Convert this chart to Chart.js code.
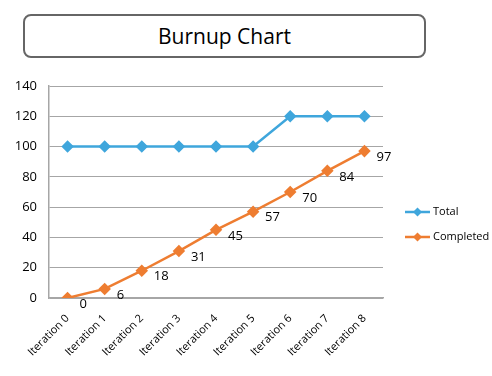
<!DOCTYPE html>
<html>
<head>
<meta charset="utf-8">
<script src="https://cdn.jsdelivr.net/npm/chart.js@4"></script>
<style>
  body { margin: 0; background: #fff; }
  #wrap { position: relative; width: 492px; height: 376px; }
  #title {
    position: absolute; left: 23px; top: 14px; width: 399px; height: 40px;
    border: 2px solid #666; border-radius: 8px; background: #fff;
    font-family: "Open Sans", sans-serif; font-size: 21px; color: #000;
    text-align: center; line-height: 40px;
  }
  canvas { position: absolute; left: 0; top: 0; }
</style>
</head>
<body>
<div id="wrap">
  <canvas id="burnup" width="492" height="376"></canvas>
  <div id="title">Burnup Chart</div>
</div>
<script>
const iterations = ["Iteration 0", "Iteration 1", "Iteration 2", "Iteration 3", "Iteration 4",
  "Iteration 5", "Iteration 6", "Iteration 7", "Iteration 8"];
const totalScope = [100, 100, 100, 100, 100, 100, 120, 120, 120];
const completed = [0, 6, 18, 31, 45, 57, 70, 84, 97];

const blue = "#3fa6dc";
const orange = "#ee7d31";
const gridColor = "#a6a6a6";

// value labels for the Completed series
const valueLabels = {
  id: "valueLabels",
  afterDatasetsDraw(chart) {
    const ctx = chart.ctx;
    const meta = chart.getDatasetMeta(1);
    ctx.save();
    ctx.font = "13px 'Open Sans', sans-serif";
    ctx.fillStyle = "#000";
    ctx.textAlign = "left";
    ctx.textBaseline = "middle";
    meta.data.forEach((pt, i) => {
      ctx.fillText(String(completed[i]), pt.x + 12, pt.y + 6);
    });
    ctx.restore();
  },
};

// legend on the right, line + diamond like the original
const sideLegend = {
  id: "sideLegend",
  afterDraw(chart) {
    const ctx = chart.ctx;
    ctx.save();
    ctx.font = "11px 'Open Sans', sans-serif";
    ctx.textBaseline = "middle";
    chart.data.datasets.forEach((ds, i) => {
      const y = 212 + i * 25;
      ctx.strokeStyle = ds.borderColor;
      ctx.lineWidth = 2.5;
      ctx.beginPath();
      ctx.moveTo(405, y);
      ctx.lineTo(430, y);
      ctx.stroke();
      ctx.fillStyle = ds.borderColor;
      ctx.beginPath();
      ctx.moveTo(417.5, y - 4.5);
      ctx.lineTo(422, y);
      ctx.lineTo(417.5, y + 4.5);
      ctx.lineTo(413, y);
      ctx.closePath();
      ctx.fill();
      ctx.fillStyle = "#000";
      ctx.fillText(ds.label, 433, y);
    });
    ctx.restore();
  },
};

new Chart(document.getElementById("burnup"), {
  type: "line",
  data: {
    labels: iterations,
    datasets: [
      {
        label: "Total",
        data: totalScope,
        borderColor: blue,
        backgroundColor: blue,
        borderWidth: 2.5,
        pointStyle: "rectRot",
        pointRadius: 4.5,
        tension: 0,
      },
      {
        label: "Completed",
        data: completed,
        borderColor: orange,
        backgroundColor: orange,
        borderWidth: 2.5,
        pointStyle: "rectRot",
        pointRadius: 4.5,
        tension: 0,
      },
    ],
  },
  options: {
    responsive: false,
    animation: false,
    layout: { padding: { top: 86, left: 0, right: 109, bottom: 0 } },
    plugins: {
      legend: { display: false },
      tooltip: { enabled: false },
    },
    scales: {
      x: {
        offset: true,
        grid: { display: false, drawTicks: false },
        border: { display: true, color: gridColor, width: 1.5 },
        ticks: {
          maxRotation: 45,
          minRotation: 45,
          padding: 14,
          color: "#000",
          font: { family: "'Open Sans', sans-serif", size: 11 },
        },
        afterFit(scale) { scale.height = 78; },
      },
      y: {
        min: 0,
        max: 140,
        grid: { color: gridColor, lineWidth: 1, drawTicks: false },
        border: { display: true, color: gridColor, width: 1.5 },
        ticks: {
          stepSize: 20,
          padding: 12,
          color: "#000",
          font: { family: "'Open Sans', sans-serif", size: 13 },
        },
        afterFit(scale) { scale.width = 49; },
      },
    },
  },
  plugins: [valueLabels, sideLegend],
});
</script>
</body>
</html>
